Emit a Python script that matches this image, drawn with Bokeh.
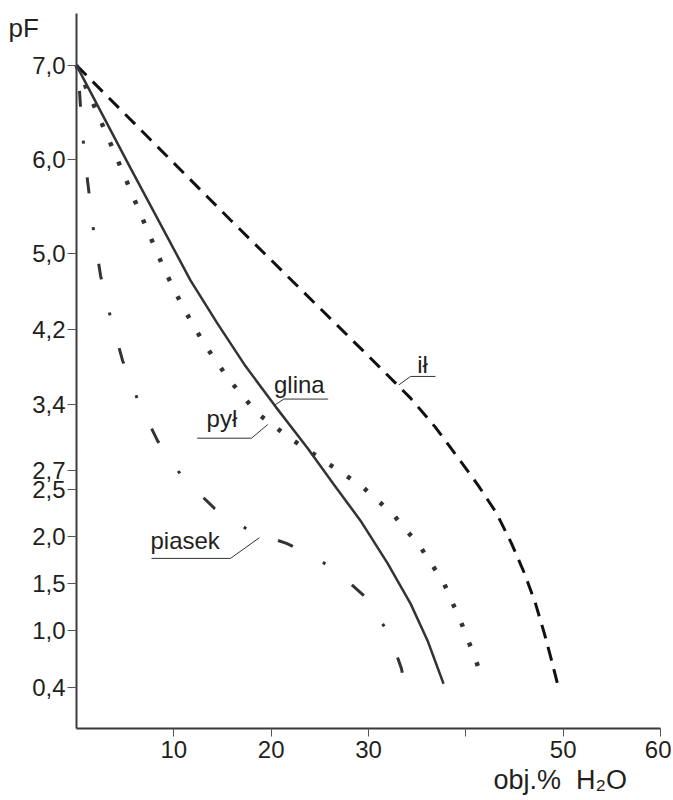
from bokeh.plotting import figure
from bokeh.models import FixedTicker, CustomJSTickFormatter, Label, Range1d
from bokeh.embed import file_html
from bokeh.resources import INLINE

# ---- data (x = obj.% H2O, y = pF) ----
il_x = [0.0, 15.82, 31.23, 34.32, 36.88, 39.25, 41.30, 43.15, 44.69, 46.03, 47.16, 48.08, 48.80, 49.42]
il_y = [7.0, 5.36, 3.79, 3.47, 3.16, 2.83, 2.54, 2.25, 1.93, 1.61, 1.29, 0.97, 0.69, 0.44]

glina_x = [0.0, 5.55, 11.71, 14.49, 17.36, 20.45, 23.73, 26.40, 29.18, 31.95, 34.32, 36.06, 37.71]
glina_y = [7.0, 5.91, 4.72, 4.26, 3.81, 3.38, 2.94, 2.56, 2.17, 1.72, 1.29, 0.90, 0.44]

pyl_x = [0.0, 3.80, 6.47, 9.04, 10.96, 13.15, 15.72, 18.57, 21.99, 25.65, 29.25, 32.50, 35.34, 37.74, 39.52, 41.07, 41.74]
pyl_y = [7.0, 6.10, 5.45, 4.83, 4.43, 4.04, 3.66, 3.31, 3.04, 2.79, 2.54, 2.24, 1.89, 1.51, 1.09, 0.68, 0.46]

piasek_x = [0.31, 0.41, 0.72, 1.13, 1.75, 2.47, 3.49, 4.73, 6.37, 8.32, 10.89, 14.18, 17.98, 21.58, 23.01, 26.30, 29.69, 32.16, 33.39, 33.70]
piasek_y = [6.73, 6.56, 6.17, 5.78, 5.25, 4.77, 4.33, 3.87, 3.43, 3.02, 2.63, 2.30, 2.05, 1.93, 1.86, 1.67, 1.36, 0.96, 0.60, 0.43]

x_ticks = [10, 20, 30, 40, 50, 60]
x_tick_labels = ["10", "20", "30", "", "50", "60"]
y_ticks = [0.4, 1.0, 1.5, 2.0, 2.5, 2.7, 3.4, 4.2, 5.0, 6.0, 7.0]
y_tick_labels = ["0,4", "1,0", "1,5", "2,0", "2,5", "2,7", "3,4", "4,2", "5,0", "6,0", "7,0"]

curve_names = ["ił", "glina", "pył", "piasek"]
# label anchors (text left edge) and leader lines, in data units
name_x = [35.0, 20.29, 13.36, 7.60]
name_y = [3.825, 3.615, 3.255, 1.965]
lead_x = [[33.11, 34.32, 36.88], [20.27, 21.30, 25.86], [19.65, 17.98, 12.40], [18.80, 15.82, 7.71]]
lead_y = [[3.61, 3.70, 3.70], [3.39, 3.46, 3.46], [3.19, 3.045, 3.045], [1.99, 1.77, 1.77]]

y_title = "pF"
x_title = "obj.%\u00a0\u00a0H₂O"

FONT = "Liberation Sans"
TXT = "#231f20"

# the frame covers the whole canvas; axes sit at fixed data locations
p = figure(frame_width=671, frame_height=798,
           x_range=Range1d(-7.808, 61.13), y_range=Range1d(-0.777, 7.688),
           output_backend="svg", toolbar_location=None, min_border=0)
p.title.visible = False
p.grid.visible = False
p.outline_line_color = None
p.background_fill_color = "white"
p.border_fill_color = "white"

p.yaxis.fixed_location = 0
p.yaxis.bounds = (-0.035, 7.55)
p.xaxis.fixed_location = -0.035
p.xaxis.bounds = (0, 60.05)

p.xaxis.ticker = FixedTicker(ticks=x_ticks)
p.yaxis.ticker = FixedTicker(ticks=y_ticks)
fmt_code = "const i = t.indexOf(tick); return i < 0 ? '' : l[i];"
p.xaxis.formatter = CustomJSTickFormatter(args=dict(t=x_ticks, l=x_tick_labels), code=fmt_code)
p.yaxis.formatter = CustomJSTickFormatter(args=dict(t=y_ticks, l=y_tick_labels), code=fmt_code)

for ax in (p.xaxis, p.yaxis):
    ax.axis_line_width = 2
    ax.axis_line_color = "#3a3a3a"
    ax.major_tick_line_color = "#555555"
    ax.major_tick_line_width = 1
    ax.major_tick_in = 0
    ax.minor_tick_line_color = None
    ax.major_label_text_font = FONT
    ax.major_label_text_font_size = "24px"
    ax.major_label_text_color = TXT
p.xaxis.major_tick_out = 8
p.yaxis.major_tick_out = 9
p.xaxis.major_label_standoff = 4
p.yaxis.major_label_standoff = 2

# curves
p.line(il_x, il_y, line_color="#111111", line_width=3, line_dash="14 9")
p.line(glina_x, glina_y, line_color="#333333", line_width=2.5)
p.line(pyl_x, pyl_y, line_color="#333333", line_width=4.5, line_dash="4 17")
p.line(piasek_x, piasek_y, line_color="#333333", line_width=3, line_dash="16 34 3 34")

# curve names with leader lines
for nm, tx, ty, lx, ly in zip(curve_names, name_x, name_y, lead_x, lead_y):
    p.line(lx, ly, line_color="#333333", line_width=1)
    p.add_layout(Label(x=tx, y=ty, text=nm, text_font=FONT, text_font_size="24px",
                       text_color=TXT, text_baseline="alphabetic", text_align="left"))

p.add_layout(Label(x=-6.99, y=7.395, text=y_title, text_font=FONT, text_font_size="26px",
                   text_color=TXT, text_baseline="alphabetic", text_align="left"))
p.add_layout(Label(x=42.84, y=-0.58, text=x_title, text_font=FONT, text_font_size="27px",
                   text_color=TXT, text_baseline="alphabetic", text_align="left"))

open("out.html", "w").write(file_html(p, INLINE))
